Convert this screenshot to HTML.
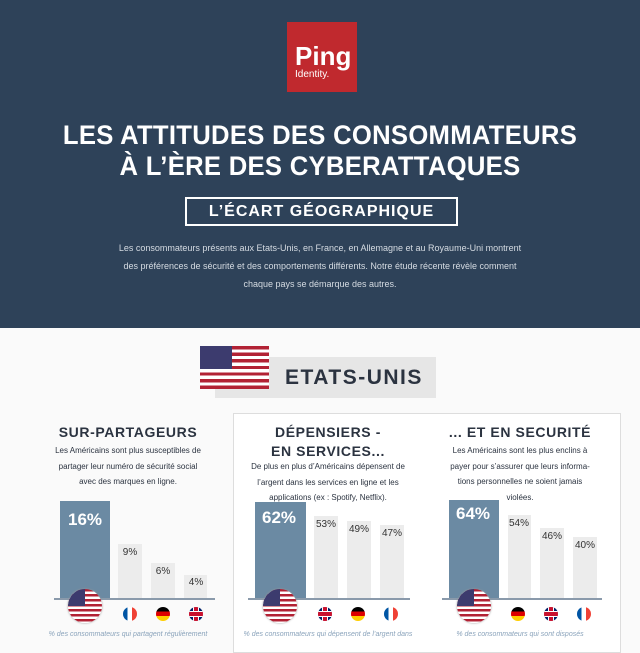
<!DOCTYPE html>
<html><head><meta charset="utf-8"><style>
*{margin:0;padding:0;box-sizing:border-box}
body{width:640px;height:640px;overflow:hidden;background:#fafafa;font-family:"Liberation Sans",sans-serif;position:relative}
.a{position:absolute}
.c{text-align:center}
.hdr{left:0;top:0;width:640px;height:328px;background:#2e4259}
.t{color:#fff;font-weight:bold;font-size:27px;letter-spacing:0.3px;left:0;width:640px;text-align:center;transform:scaleX(0.95)}
.p{color:#d5dbe2;font-size:9px;left:0;width:640px;text-align:center;line-height:18px}
.h{font-weight:bold;font-size:14px;color:#2b3340;letter-spacing:0.6px;line-height:19px}
.d{font-size:8px;color:#2b3340;line-height:15.5px}
.blue{background:#6b8aa3}
.gray{background:#ececec}
.bl{color:#fff;font-weight:bold;font-size:17px}
.gl{color:#333;font-size:10px;text-align:center}
.base{height:2px;background:#8a9aab}
.ft{font-size:7px;color:#8aa3bb;font-style:italic}
.us{border-radius:50%;overflow:hidden;background:repeating-linear-gradient(#b22234 0 2.5px,#fff 2.5px 5px);box-shadow:0 0 2px #999}
.us::before{content:"";position:absolute;left:0;top:0;width:50%;height:50%;background:#3c3b6e}
.fr{border-radius:50%;background:linear-gradient(90deg,#0055a4 33%,#fff 33% 66%,#ef4135 66%)}
.de{border-radius:50%;background:linear-gradient(#000 33%,#dd0000 33% 66%,#ffce00 66%)}
.uk{border-radius:50%;background:#012169;overflow:hidden}
.uk::before{content:"";position:absolute;left:5px;top:0;width:4px;height:14px;background:#c8102e;box-shadow:0 0 0 1px #fff}
.uk::after{content:"";position:absolute;left:0;top:5px;width:14px;height:4px;background:#c8102e;box-shadow:0 0 0 1px #fff}
</style></head><body>
<div class="a hdr"></div>
<div class="a" style="left:287px;top:22px;width:70px;height:70px;background:#c0292e"></div>
<div class="a" style="left:295px;top:42px;color:#fff;font-weight:bold;font-size:26px;line-height:28px">Ping</div>
<div class="a" style="left:295px;top:69px;color:#fff;font-size:10px">Identity.</div>
<div class="a t" style="top:120px">LES ATTITUDES DES CONSOMMATEURS</div>
<div class="a t" style="top:151px">À L’ÈRE DES CYBERATTAQUES</div>
<div class="a" style="left:185px;top:197px;width:273px;height:29px;border:2px solid #fff;color:#fff;font-weight:bold;font-size:16px;text-align:center;line-height:25px;letter-spacing:1px">L’ÉCART GÉOGRAPHIQUE</div>
<div class="a p" style="top:239px">Les consommateurs présents aux Etats-Unis, en France, en Allemagne et au Royaume-Uni montrent<br>des préférences de sécurité et des comportements différents. Notre étude récente révèle comment<br>chaque pays se démarque des autres.</div>

<div class="a" style="left:215px;top:357px;width:221px;height:41px;background:#e6e6e6"></div>
<div class="a" style="left:285px;top:366px;font-weight:bold;font-size:21px;color:#2b3340;letter-spacing:1.5px">ETATS-UNIS</div>
<div class="a" style="left:200px;top:346px;width:69px;height:43px;background:repeating-linear-gradient(#b22234 0 3.3px,#fff 3.3px 6.6px)"></div>
<div class="a" style="left:200px;top:346px;width:32px;height:23px;background:#3c3b6e"></div>

<div class="a" style="left:233px;top:413px;width:388px;height:240px;border:1px solid #ddd;background:#fff"></div>

<!-- col1 -->
<div class="a c h" style="left:28px;width:200px;top:423px">SUR-PARTAGEURS</div>
<div class="a c d" style="left:18px;width:220px;top:443px">Les Américains sont plus susceptibles de<br>partager leur numéro de sécurité social<br>avec des marques en ligne.</div>
<div class="a blue" style="left:60px;top:501px;width:50px;height:98px"></div>
<div class="a bl" style="left:68px;top:510px">16%</div>
<div class="a gray" style="left:118px;top:544px;width:24px;height:55px"></div><div class="a gl" style="left:116px;width:28px;top:547px">9%</div>
<div class="a gray" style="left:151px;top:563px;width:24px;height:36px"></div><div class="a gl" style="left:149px;width:28px;top:566px">6%</div>
<div class="a gray" style="left:184px;top:575px;width:23px;height:24px"></div><div class="a gl" style="left:182px;width:28px;top:577px">4%</div>
<div class="a base" style="left:54px;top:598px;width:161px"></div>
<div class="a us" style="left:68px;top:589px;width:34px;height:34px"></div>
<div class="a fr" style="left:123px;top:607px;width:14px;height:14px"></div>
<div class="a de" style="left:156px;top:607px;width:14px;height:14px"></div>
<div class="a uk" style="left:189px;top:607px;width:14px;height:14px"></div>
<div class="a c ft" style="left:18px;width:220px;top:631px">% des consommateurs qui partagent régulièrement</div>

<!-- col2 -->
<div class="a c h" style="left:228px;width:200px;top:423px">DÉPENSIERS -<br>EN SERVICES...</div>
<div class="a c d" style="left:218px;width:220px;top:459px">De plus en plus d’Américains dépensent de<br>l’argent dans les services en ligne et les<br>applications (ex : Spotify, Netflix).</div>
<div class="a blue" style="left:255px;top:502px;width:51px;height:97px"></div>
<div class="a bl" style="left:262px;top:508px">62%</div>
<div class="a gray" style="left:314px;top:516px;width:24px;height:83px"></div><div class="a gl" style="left:312px;width:28px;top:519px">53%</div>
<div class="a gray" style="left:347px;top:521px;width:24px;height:78px"></div><div class="a gl" style="left:345px;width:28px;top:524px">49%</div>
<div class="a gray" style="left:380px;top:525px;width:24px;height:74px"></div><div class="a gl" style="left:378px;width:28px;top:528px">47%</div>
<div class="a base" style="left:248px;top:598px;width:162px"></div>
<div class="a us" style="left:263px;top:589px;width:34px;height:34px"></div>
<div class="a uk" style="left:318px;top:607px;width:14px;height:14px"></div>
<div class="a de" style="left:351px;top:607px;width:14px;height:14px"></div>
<div class="a fr" style="left:384px;top:607px;width:14px;height:14px"></div>
<div class="a c ft" style="left:218px;width:220px;top:631px">% des consommateurs qui dépensent de l’argent dans</div>

<!-- col3 -->
<div class="a c h" style="left:420px;width:200px;top:423px">... ET EN SECURITÉ</div>
<div class="a c d" style="left:410px;width:220px;top:443px">Les Américains sont les plus enclins à<br>payer pour s’assurer que leurs informa-<br>tions personnelles ne soient jamais<br>violées.</div>
<div class="a blue" style="left:449px;top:500px;width:50px;height:99px"></div>
<div class="a bl" style="left:456px;top:504px">64%</div>
<div class="a gray" style="left:508px;top:515px;width:23px;height:84px"></div><div class="a gl" style="left:505px;width:28px;top:518px">54%</div>
<div class="a gray" style="left:540px;top:528px;width:24px;height:71px"></div><div class="a gl" style="left:538px;width:28px;top:531px">46%</div>
<div class="a gray" style="left:573px;top:537px;width:24px;height:62px"></div><div class="a gl" style="left:571px;width:28px;top:540px">40%</div>
<div class="a base" style="left:442px;top:598px;width:160px"></div>
<div class="a us" style="left:457px;top:589px;width:34px;height:34px"></div>
<div class="a de" style="left:511px;top:607px;width:14px;height:14px"></div>
<div class="a uk" style="left:544px;top:607px;width:14px;height:14px"></div>
<div class="a fr" style="left:577px;top:607px;width:14px;height:14px"></div>
<div class="a c ft" style="left:410px;width:220px;top:631px">% des consommateurs qui sont disposés</div>
</body></html>
